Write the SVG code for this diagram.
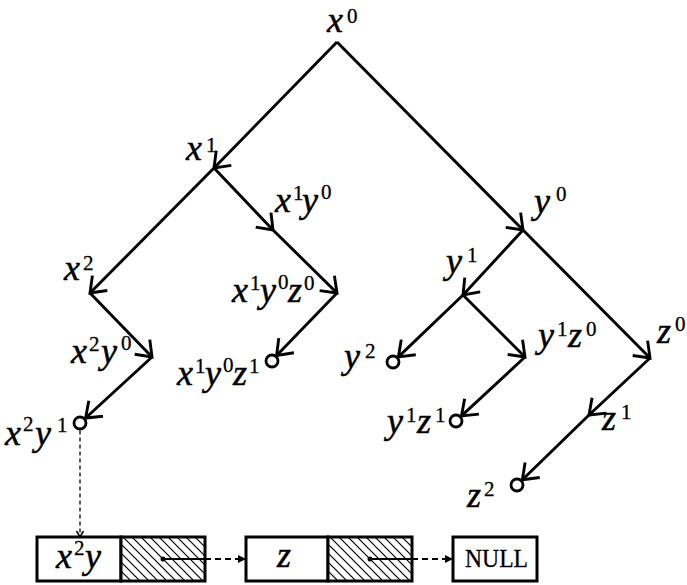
<svg xmlns="http://www.w3.org/2000/svg" width="687" height="585" viewBox="0 0 687 585">
<style>
.t{font-family:"Liberation Serif","Times New Roman",serif;font-style:italic;font-size:36px;fill:#000;stroke:#000;stroke-width:0.5}
.s{font-style:normal;font-size:21px;stroke-width:0.3}
.n{font-family:"Liberation Serif","Times New Roman",serif;font-size:26px;fill:#000;stroke:#000;stroke-width:0.3}
.e{stroke:#000;stroke-width:2.9;fill:none;marker-end:url(#ah)}
.leaf{fill:#fff;stroke:#000;stroke-width:2.8}
.box{fill:#fff;stroke:#000;stroke-width:3}
.hatch{fill:url(#hp);stroke:#000;stroke-width:3}
.d1{stroke:#000;stroke-width:1.3;stroke-dasharray:4 3;fill:none;marker-end:url(#sa)}
.d2{stroke:#000;stroke-width:2;stroke-dasharray:6 4;fill:none;marker-end:url(#fa)}
.sl{stroke:#000;stroke-width:2;fill:none}
</style>
<defs>
<marker id="ah" markerUnits="userSpaceOnUse" viewBox="-20 -15 30 30" markerWidth="30" markerHeight="30" refX="0" refY="0" orient="auto" overflow="visible">
<path d="M-14,-10.5 L0,0 L-14,10.5" fill="none" stroke="#000" stroke-width="2.9" stroke-linejoin="miter"/>
</marker>
<marker id="sa" markerUnits="userSpaceOnUse" viewBox="-10 -5 12 10" markerWidth="12" markerHeight="10" refX="0" refY="0" orient="auto" overflow="visible">
<path d="M-6,-3.5 L0,0 L-6,3.5" fill="none" stroke="#000" stroke-width="1.5"/>
</marker>
<marker id="fa" markerUnits="userSpaceOnUse" viewBox="-10 -5 12 10" markerWidth="12" markerHeight="10" refX="0" refY="0" orient="auto" overflow="visible">
<path d="M-8,-4 L0,0 L-8,4 z" fill="#000"/>
</marker>
<pattern id="hp" patternUnits="userSpaceOnUse" width="9" height="9">
<rect width="9" height="9" fill="#fff"/>
<path d="M-1,-1 L10,10 M8,-1 L10,1 M-1,8 L1,10" stroke="#000" stroke-width="1.2"/>
</pattern>
</defs>

<g id="n-x0"><text class="t"><tspan x="327" y="32">x</tspan><tspan class="s" x="347" y="23">0</tspan></text></g>
<g id="n-x1"><text class="t"><tspan x="186" y="160">x</tspan><tspan class="s" x="206" y="152">1</tspan></text></g>
<g id="n-x1y0"><text class="t"><tspan x="275" y="212">x</tspan><tspan class="s" x="293" y="200">1</tspan><tspan x="302" y="212">y</tspan><tspan class="s" x="321" y="199">0</tspan></text></g>
<g id="n-x2"><text class="t"><tspan x="64" y="280">x</tspan><tspan class="s" x="83" y="270">2</tspan></text></g>
<g id="n-x2y0"><text class="t"><tspan x="71" y="363">x</tspan><tspan class="s" x="89" y="351">2</tspan><tspan x="101" y="363">y</tspan><tspan class="s" x="121" y="350">0</tspan></text></g>
<g id="n-x1y0z0"><text class="t"><tspan x="232" y="302">x</tspan><tspan class="s" x="250" y="290">1</tspan><tspan x="260" y="302">y</tspan><tspan class="s" x="278" y="289">0</tspan><tspan x="288" y="302">z</tspan><tspan class="s" x="304" y="290">0</tspan></text></g>
<g id="n-x1y0z1"><circle class="leaf" cx="272" cy="361" r="6"/><text class="t"><tspan x="177" y="385">x</tspan><tspan class="s" x="195" y="373">1</tspan><tspan x="205" y="385">y</tspan><tspan class="s" x="223" y="372">0</tspan><tspan x="233" y="385">z</tspan><tspan class="s" x="249" y="373">1</tspan></text></g>
<g id="n-x2y1"><circle class="leaf" cx="80" cy="423" r="6"/><text class="t"><tspan x="5" y="445">x</tspan><tspan class="s" x="23" y="431">2</tspan><tspan x="35" y="445">y</tspan><tspan class="s" x="57" y="432">1</tspan></text></g>
<g id="n-y0"><text class="t"><tspan x="534" y="213">y</tspan><tspan class="s" x="556" y="201">0</tspan></text></g>
<g id="n-y1"><text class="t"><tspan x="446" y="273">y</tspan><tspan class="s" x="467" y="262">1</tspan></text></g>
<g id="n-y1z0"><text class="t"><tspan x="538" y="347">y</tspan><tspan class="s" x="557" y="336">1</tspan><tspan x="568" y="347">z</tspan><tspan class="s" x="586" y="336">0</tspan></text></g>
<g id="n-y2"><circle class="leaf" cx="393" cy="362" r="6"/><text class="t"><tspan x="344" y="368">y</tspan><tspan class="s" x="365" y="358">2</tspan></text></g>
<g id="n-y1z1"><circle class="leaf" cx="456" cy="421" r="6"/><text class="t"><tspan x="387" y="433">y</tspan><tspan class="s" x="406" y="422">1</tspan><tspan x="417" y="433">z</tspan><tspan class="s" x="435" y="422">1</tspan></text></g>
<g id="n-z0"><text class="t"><tspan x="657" y="343">z</tspan><tspan class="s" x="675" y="331">0</tspan></text></g>
<g id="n-z1"><text class="t"><tspan x="602" y="430">z</tspan><tspan class="s" x="621" y="419">1</tspan></text></g>
<g id="n-z2"><circle class="leaf" cx="517" cy="485" r="6"/><text class="t"><tspan x="467" y="507">z</tspan><tspan class="s" x="484" y="496">2</tspan></text></g>

<g id="cell1">
<rect class="box" x="37" y="537" width="84" height="44"/>
<rect class="hatch" x="121" y="537" width="84" height="44"/>
<text class="t"><tspan x="56" y="568">x</tspan><tspan class="s" x="74" y="555">2</tspan><tspan x="85" y="568">y</tspan></text>
<circle cx="163" cy="559" r="2.5" fill="#000"/>
</g>
<g id="cell2">
<rect class="box" x="246" y="537" width="82" height="44"/>
<rect class="hatch" x="328" y="537" width="84" height="44"/>
<text class="t" x="277" y="567">z</text>
<circle cx="370" cy="559" r="2.5" fill="#000"/>
</g>
<g id="cell-null">
<rect class="box" x="453" y="537" width="84" height="44"/>
<text class="n" x="465" y="567" textLength="63" lengthAdjust="spacingAndGlyphs">NULL</text>
</g>

<g id="connectors">
<line class="e" x1="337" y1="42" x2="214" y2="168"/>
<line class="e" x1="214" y1="168" x2="273" y2="230"/>
<line class="e" x1="273" y1="230" x2="337" y2="293"/>
<line class="e" x1="337" y1="293" x2="276.6" y2="355.5"/>
<line class="e" x1="214" y1="168" x2="90" y2="293"/>
<line class="e" x1="90" y1="293" x2="152" y2="357"/>
<line class="e" x1="152" y1="357" x2="85.6" y2="418"/>
<line class="e" x1="337" y1="42" x2="523" y2="230"/>
<line class="e" x1="523" y1="230" x2="463" y2="295"/>
<line class="e" x1="463" y1="295" x2="398.4" y2="356.9"/>
<line class="e" x1="463" y1="295" x2="525" y2="357"/>
<line class="e" x1="525" y1="357" x2="461.5" y2="415.9"/>
<line class="e" x1="523" y1="230" x2="650" y2="358"/>
<line class="e" x1="650" y1="358" x2="589" y2="415"/>
<line class="e" x1="589" y1="415" x2="522.4" y2="479.8"/>
<line class="d1" x1="80" y1="430.5" x2="80" y2="537"/>
<line class="sl" x1="163" y1="559" x2="205" y2="559"/>
<line class="d2" x1="205" y1="559" x2="246" y2="559"/>
<line class="sl" x1="370" y1="559" x2="412" y2="559"/>
<line class="d2" x1="412" y1="559" x2="453" y2="559"/>
</g>
</svg>
